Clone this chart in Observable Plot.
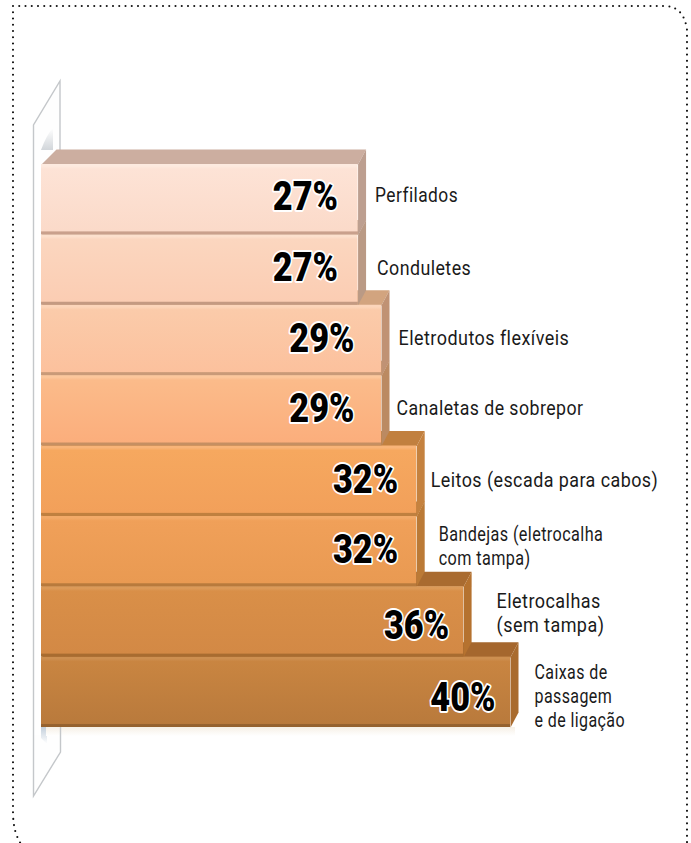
<!DOCTYPE html>
<html lang="pt">
<head>
<meta charset="utf-8">
<script src="https://cdn.jsdelivr.net/npm/d3@7"></script>
<script src="https://cdn.jsdelivr.net/npm/@observablehq/plot@0.6"></script>
<style>
html,body{margin:0;padding:0;background:#fff;overflow:hidden}
svg{display:block}
.cat text{letter-spacing:.45px}
</style>
</head>
<body>
<div id="chart"></div>
<script>
// Data
const categories = ["Perfilados","Conduletes","Eletrodutos flexíveis","Canaletas de sobrepor","Leitos (escada para cabos)","Bandejas (eletrocalha\ncom tampa)","Eletrocalhas\n(sem tampa)","Caixas de\npassagem\ne de ligação"];
const values = [27,27,29,29,32,32,36,40];

// Face colours, top row to bottom row
const frontTop    = ["#fde3d6","#fbd6bf","#fbcbaa","#fbbb8a","#f6a85f","#f0a059","#d98f48","#c98541"];
const frontBottom = ["#fbdac9","#fbcdb3","#fcc19d","#fbae7c","#f2a05a","#e99a52","#d38945","#b97a3c"];
const highlight   = ["#fdeadf","#fce0cd","#fcd5ba","#fcc79c","#f8b478","#f3aa68","#dc9a58","#cd8f50"];
const seam        = ["#c9a08c","#c49a82","#c99a78","#c58f62","#c0803f","#b87a3c","#a86c30","#95622f"];
const topFace     = ["#ccaea0","#c9a68f","#d2a47f","#cc9a70","#c1803f","#b97a3a","#a96b30","#a5672e"];
const sideFace    = ["#bd9f90","#ba9a85","#c09274","#bb8a62","#c5823f","#bb7a36","#b5722f","#a96b2e"];

// Per-label nudges, in px, and horizontal condensing of the category labels
const labelGap  = [9,11,9,7,6,14,25,16];
const labelDy   = [-5,-3,-3,-4,-2,-6,-10,3];
const labelSx   = [.965,.99,1,.985,.995,.9,1,.89];
const pctInset  = [20,20,27,27,18.5,18.5,14.5,15];
const pctDy     = [-3,-2,-2,-2,-1,-2,4,5];

const depthX = 8/11.73, depthY = 15/70.4, depthLeft = 15/11.73;
const rows = values.map((v,i)=>({i,v,cat:categories[i]}));

const defsMark = () => {
  const g = d3.create("svg:g");
  const defs = g.append("defs");
  rows.forEach(({i})=>{
    const lg = defs.append("linearGradient").attr("id",`g${i}`).attr("x1",0).attr("x2",0).attr("y1",0).attr("y2",1);
    [[0,highlight[i]],[.03,highlight[i]],[.07,frontTop[i]],[.95,frontBottom[i]],[.965,seam[i]],[1,seam[i]]]
      .forEach(([o,c])=>lg.append("stop").attr("offset",o).attr("stop-color",c));
  });
  const s1 = defs.append("linearGradient").attr("id","shadeTop").attr("x1",0).attr("x2",0).attr("y1",0).attr("y2",1);
  s1.append("stop").attr("offset",0).attr("stop-color","#fff");
  s1.append("stop").attr("offset",1).attr("stop-color","#b4bbc2");
  const s2 = defs.append("linearGradient").attr("id","shadeBot").attr("x1",0).attr("x2",0).attr("y1",0).attr("y2",1);
  s2.append("stop").attr("offset",0).attr("stop-color","#b4c3d2");
  s2.append("stop").attr("offset",1).attr("stop-color","#fff");
  const s3 = defs.append("linearGradient").attr("id","shadeBar").attr("x1",0).attr("x2",0).attr("y1",0).attr("y2",1);
  s3.append("stop").attr("offset",0).attr("stop-color","#f6f0e6");
  s3.append("stop").attr("offset",1).attr("stop-color","#fff");
  return g.node();
};

// Dotted card border and the thin back wall: decoration, not data
const frameMark = () => {
  const g = d3.create("svg:g");
  g.append("path").attr("d","M13 6H664Q684 6 687 30V843M13 6V812Q13 832 21 844")
    .attr("fill","none").attr("stroke","#111").attr("stroke-width",2.1)
    .attr("stroke-linecap","round").attr("stroke-dasharray","0 6.25");
  g.append("path").attr("d","M34 125L60 81V160H34Z M34 735H60V752L34 796Z").attr("fill","#fefefe");
  g.append("path").attr("d","M41 150Q47 134 53 128V150Z").attr("fill","url(#shadeTop)").attr("opacity",.6);
  g.append("path").attr("d","M41 727H47V744Q44 741 41 738Z").attr("fill","url(#shadeBot)").attr("opacity",.8);
  g.append("path").attr("d","M46 727H515V736H46Z").attr("fill","url(#shadeBar)");
  g.append("path").attr("d","M60 150V81L33.5 125V796L60.5 752V727")
    .attr("fill","none").attr("stroke","#c4c7ca").attr("stroke-width",1.4);
  return g.node();
};

const barMarks = [];
[...rows].reverse().forEach(({i,v})=>{
  const top = [[0,i],[depthLeft,i-depthY],[v+depthX,i-depthY],[v,i]];
  const side = [[v,i],[v+depthX,i-depthY],[v+depthX,i+1-depthY],[v,i+1]];
  barMarks.push(
    Plot.line(top,{x:"0",y:"1",fill:topFace[i],stroke:"none"}),
    Plot.line(side,{x:"0",y:"1",fill:sideFace[i],stroke:"none"}),
    Plot.rect([{i,v}],{x1:0,x2:"v",y1:"i",y2:d=>d.i+1,fill:`url(#g${i})`})
  );
});

const plot = Plot.plot({
  width:691,height:843,
  marginTop:0,marginRight:0,marginBottom:0,marginLeft:0,
  x:{domain:[0,40],range:[41,510],axis:null},
  y:{domain:[0,8],range:[164,727],axis:null},
  style:{background:"#fff"},
  marks:[
    defsMark,
    frameMark,
    ...barMarks,
    Plot.text(rows,{
      x:"v",y:d=>d.i+.5,text:d=>`${d.v}%`,
      textAnchor:"end",
      fontFamily:"Roboto, 'Liberation Sans', sans-serif",fontWeight:900,fontSize:35,
      fill:"#000",stroke:"#fff",strokeWidth:3.2,paintOrder:"stroke",
      render(index,scales,channels,dims,ctx,next){
        const g = next(index,scales,channels,dims,ctx);
        d3.select(g).selectAll("text").each(function(_,k){
          const r = index[k];
          const t = d3.select(this);
          const tr = t.attr("transform");
          t.attr("transform",`${tr||""} translate(${-pctInset[r]},${pctDy[r]}) scale(.98,1.18)`);
        });
        return g;
      }
    }),
    Plot.text(rows,{
      x:"v",y:d=>d.i+.5,text:"cat",
      className:"cat",
      textAnchor:"start",lineHeight:1.25,
      fontFamily:"Roboto, sans-serif",fontSize:18,fill:"#1a1a1a",
      render(index,scales,channels,dims,ctx,next){
        const g = next(index,scales,channels,dims,ctx);
        d3.select(g).selectAll("text").each(function(_,k){
          const r = index[k];
          const t = d3.select(this);
          const tr = t.attr("transform");
          t.attr("transform",`${tr||""} translate(${8+labelGap[r]},${labelDy[r]}) scale(${labelSx[r]},1.08)`);
        });
        return g;
      }
    })
  ]
});
document.getElementById("chart").append(plot);
</script>
</body>
</html>
